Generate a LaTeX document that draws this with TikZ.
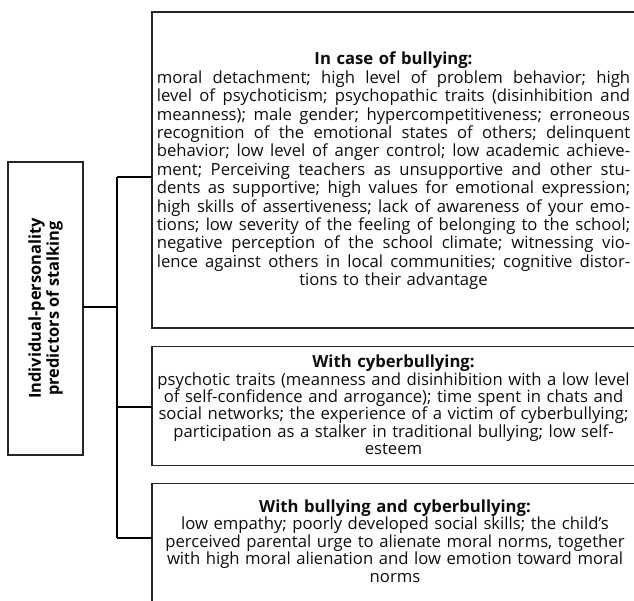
\documentclass[tikz,border=0pt]{standalone}
\usepackage{fontspec}
\setmainfont{Open Sans}
\newcommand{\jl}[1]{\leavevmode\hbox to 355pt{\frenchspacing\spaceskip=\fontdimen2\font plus 1fil minus 0.15em\relax #1}}
\begin{document}
\begin{tikzpicture}[x=0.75pt,y=-0.75pt,
  frame/.style={draw=black!85,line width=0.8pt,inner sep=0pt,outer sep=0pt,rectangle},
  conn/.style={draw=black,line width=1.6pt},
  bodytext/.style={inner sep=0pt,text width=420pt,align=center,text=black!95},
  sidetext/.style={inner sep=0pt,align=center,rotate=90,font=\fontsize{12.3}{13.5}\selectfont\bfseries}]
\useasboundingbox (0,0) rectangle (634,600);
\clip (0,0) rectangle (634,600);
% boxes
\node[frame,anchor=north west,minimum width=56.25pt,minimum height=219.75pt] (lbox) at (8,162) {};
\node[frame,anchor=north west,minimum width=370pt,minimum height=237pt] (b1) at (152,12) {};
\node[frame,anchor=north west,minimum width=370pt,minimum height=89.25pt] (b2) at (152,346.5) {};
\node[frame,anchor=north west,minimum width=370pt,minimum height=110pt] (b3) at (152,483.5) {};
% texts
\node[sidetext] (ltext) at (lbox.center) {Individual-personality\\predictors of stalking};
\node[bodytext,font=\fontsize{12.5}{13.8}\selectfont] (t1) at (393.5,171) {\textbf{In case of bullying:}\\
\jl{moral detachment; high level of problem behavior; high}\\
\jl{level of psychoticism; psychopathic traits (disinhibition and}\\
\jl{meanness); male gender; hypercompetitiveness; erroneous}\\
\jl{recognition of the emotional states of others; delinquent}\\
\jl{behavior; low level of anger control; low academic achieve-}\\
\jl{ment; Perceiving teachers as unsupportive and other stu-}\\
\jl{dents as supportive; high values for emotional expression;}\\
\jl{high skills of assertiveness; lack of awareness of your emo-}\\
\jl{tions; low severity of the feeling of belonging to the school;}\\
\jl{negative perception of the school climate; witnessing vio-}\\
\jl{lence against others in local communities; cognitive distor-}\\
tions to their advantage};
\node[bodytext,font=\fontsize{12.5}{13.1}\selectfont] (t2) at (393.5,405) {\textbf{With cyberbullying:}\\
psychotic traits (meanness and disinhibition with a low level\\
of self-confidence and arrogance); time spent in chats and\\
social networks; the experience of a victim of cyberbullying;\\
participation as a stalker in traditional bullying; low self-\\
esteem};
\node[bodytext,font=\fontsize{12.5}{13.1}\selectfont] (t3) at (395,541) {\textbf{With bullying and cyberbullying:}\\
low empathy; poorly developed social skills; the child’s\\
perceived parental urge to alienate moral norms, together\\
with high moral alienation and low emotion toward moral\\
norms};
% connectors
\coordinate (j0) at (117,307);
\coordinate (j1) at (117,177);
\coordinate (j2) at (117,407);
\coordinate (j3) at (117,538);
\draw[conn] (lbox.east |- j0) -- (j0);
\draw[conn] (j1) -- (j3);
\draw[conn] (j1) -- (b1.west |- j1);
\draw[conn] (j2) -- (b2.west |- j2);
\draw[conn] (j3) -- (b3.west |- j3);
\end{tikzpicture}
\end{document}
